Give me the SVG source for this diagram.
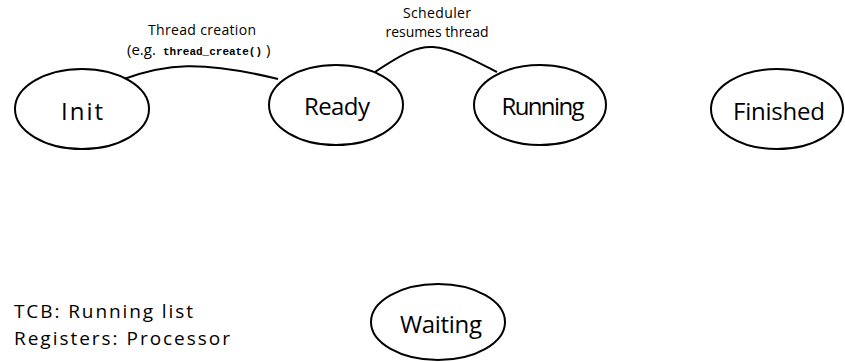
<svg xmlns="http://www.w3.org/2000/svg" width="845" height="362" viewBox="0 0 845 362">
<style>
.node ellipse{fill:#fff;stroke:#000;stroke-width:2}
.lbl{font-family:"Open Sans","DejaVu Sans",sans-serif;font-size:24px;fill:#000;text-anchor:middle}
.edge{fill:none;stroke:#000;stroke-width:2}
.el{font-family:"Open Sans","DejaVu Sans",sans-serif;font-size:14px;fill:#000;text-anchor:middle}
.eg{font-family:"Open Sans","DejaVu Sans",sans-serif;font-size:15px;fill:#000;text-anchor:start}
.mono{font-family:"Liberation Mono","Courier New",monospace;font-weight:bold;font-size:11px}
.note{font-family:"Open Sans","DejaVu Sans",sans-serif;font-size:19px;fill:#000}
</style>
<rect width="845" height="362" fill="#fff"/>
<g id="connectors">
<path class="edge" d="M124,79 C165,64 200,60 278,79"/>
<path class="edge" d="M375,72 C405,52 418,46 433,47 C455,49 475,61 497,72"/>
<text class="el" x="202" y="35" textLength="108">Thread creation</text>
<text class="eg" x="127" y="55">(e.g.</text>
<text class="mono" x="163" y="55" textLength="99">thread_create()</text>
<text class="eg" x="266" y="55">)</text>
<text class="el" x="437" y="18" textLength="68">Scheduler</text>
<text class="el" x="437" y="37" textLength="103">resumes thread</text>
</g>
<g id="init" class="node"><ellipse cx="82" cy="109" rx="67" ry="40"/><text class="lbl" x="82" y="120" textLength="42">Init</text></g>
<g id="ready" class="node"><ellipse cx="336" cy="105" rx="67" ry="40"/><text class="lbl" x="337" y="115" textLength="66">Ready</text></g>
<g id="running" class="node"><ellipse cx="540" cy="105" rx="66" ry="40"/><text class="lbl" x="543" y="115" textLength="83">Running</text></g>
<g id="finished" class="node"><ellipse cx="777" cy="109" rx="66" ry="40"/><text class="lbl" x="779" y="120" textLength="92">Finished</text></g>
<g id="waiting" class="node"><ellipse cx="438" cy="322" rx="67" ry="38"/><text class="lbl" x="441" y="333" textLength="82">Waiting</text></g>
<g id="notes">
<text class="note" x="14" y="318" textLength="179">TCB: Running list</text>
<text class="note" x="14" y="345" textLength="216">Registers: Processor</text>
</g>
</svg>
